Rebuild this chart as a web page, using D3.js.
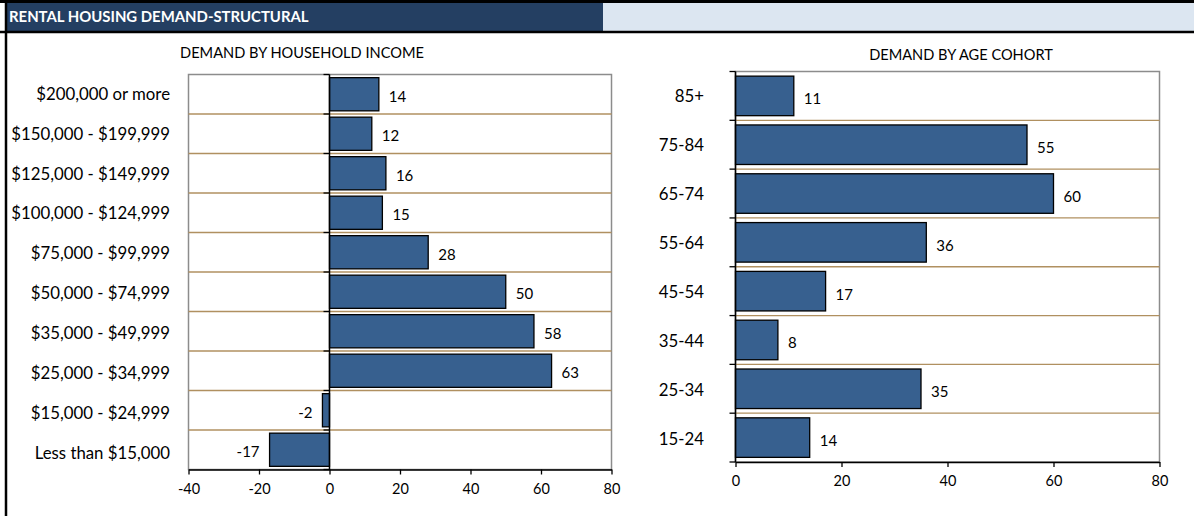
<!DOCTYPE html>
<html>
<head>
<meta charset="utf-8">
<script src="https://cdn.jsdelivr.net/npm/d3@7"></script>
<style>
  html, body { margin: 0; padding: 0; background: #fff; }
  svg { display: block; }
  text { font-family: Lato, "Open Sans", sans-serif; fill: #000; }
</style>
</head>
<body>
<svg id="chart" width="1194" height="516"></svg>
<script>
const headerTitle = "RENTAL HOUSING DEMAND-STRUCTURAL";
const incomeTitle = "DEMAND BY HOUSEHOLD INCOME";
const ageTitle = "DEMAND BY AGE COHORT";

const incomeCategories = ["$200,000 or more", "$150,000 - $199,999", "$125,000 - $149,999",
  "$100,000 - $124,999", "$75,000 - $99,999", "$50,000 - $74,999", "$35,000 - $49,999",
  "$25,000 - $34,999", "$15,000 - $24,999", "Less than $15,000"];
const incomeValues = [14, 12, 16, 15, 28, 50, 58, 63, -2, -17];
const incomeTicks = [-40, -20, 0, 20, 40, 60, 80];

const ageCategories = ["85+", "75-84", "65-74", "55-64", "45-54", "35-44", "25-34", "15-24"];
const ageValues = [11, 55, 60, 36, 17, 8, 35, 14];
const ageTicks = [0, 20, 40, 60, 80];

const svg = d3.select("#chart");
const BAR = "#37608F", GRID = "#B09060", FRAME = "#8C8C8C";

// header band
svg.append("rect").attr("x", 5).attr("y", 2).attr("width", 598).attr("height", 29).attr("fill", "#243F62");
svg.append("rect").attr("x", 603).attr("y", 2).attr("width", 591).attr("height", 29).attr("fill", "#DCE6F1");
svg.append("line").attr("x1", 0).attr("x2", 1194).attr("y1", 1.5).attr("y2", 1.5).attr("stroke", "#000").attr("stroke-width", 3);
svg.append("line").attr("x1", 0).attr("x2", 1194).attr("y1", 32).attr("y2", 32).attr("stroke", "#000").attr("stroke-width", 2.5);
svg.append("line").attr("x1", 6).attr("x2", 6).attr("y1", 0).attr("y2", 516).attr("stroke", "#000").attr("stroke-width", 2.5);
svg.append("text").attr("x", 9).attr("y", 22).text(headerTitle)
  .style("font-weight", "bold").style("font-size", "14.9px").style("fill", "#fff");

function drawChart(cfg) {
  const g = svg.append("g");
  const x = d3.scaleLinear().domain(cfg.domain).range([cfg.x0, cfg.x1]);
  const y = d3.scaleBand().domain(cfg.categories).range([cfg.y0, cfg.y1]).paddingInner(cfg.pad).paddingOuter(cfg.pad / 2);
  const step = y.step();

  // plot frame
  g.append("rect").attr("x", cfg.x0).attr("y", cfg.y0).attr("width", cfg.x1 - cfg.x0).attr("height", cfg.y1 - cfg.y0)
    .attr("fill", "#fff").attr("stroke", FRAME).attr("stroke-width", 1.5);

  // gridlines at category boundaries
  g.selectAll(".grid").data(cfg.categories.slice(1)).join("line")
    .attr("x1", cfg.x0).attr("x2", cfg.x1)
    .attr("y1", (d, i) => cfg.y0 + (i + 1) * step).attr("y2", (d, i) => cfg.y0 + (i + 1) * step)
    .attr("stroke", GRID).attr("stroke-width", 1.3);

  // bars
  g.selectAll(".bar").data(cfg.values).join("rect")
    .attr("x", d => x(Math.min(0, d)))
    .attr("y", (d, i) => y(cfg.categories[i]))
    .attr("width", d => Math.abs(x(d) - x(0)))
    .attr("height", y.bandwidth())
    .attr("fill", BAR).attr("stroke", "#000").attr("stroke-width", 1.3);

  // value labels
  g.selectAll(".val").data(cfg.values).join("text")
    .attr("x", d => d >= 0 ? x(d) + 10 : x(d) - 10)
    .attr("y", (d, i) => y(cfg.categories[i]) + y.bandwidth() / 2 + 5.5 + cfg.labelDy)
    .attr("text-anchor", d => d >= 0 ? "start" : "end")
    .style("font-size", "15px")
    .text(d => d);

  // category axis (at zero)
  const zx = x(0);
  g.append("line").attr("x1", zx).attr("x2", zx).attr("y1", cfg.y0).attr("y2", cfg.y1).attr("stroke", "#000").attr("stroke-width", 1.5);
  g.selectAll(".ytick").data(d3.range(cfg.categories.length + 1)).join("line")
    .attr("x1", zx - 6).attr("x2", zx).attr("y1", i => cfg.y0 + i * step).attr("y2", i => cfg.y0 + i * step)
    .attr("stroke", "#000").attr("stroke-width", 1.3);
  g.selectAll(".ylab").data(cfg.categories).join("text")
    .attr("x", cfg.labelX).attr("y", (d, i) => y(d) + y.bandwidth() / 2 + 6 + cfg.catDy + i * cfg.catSpread)
    .attr("text-anchor", "end").style("font-size", "16.8px").text(d => d);

  // value axis
  const ax = g.append("g").attr("transform", `translate(0,${cfg.y1})`)
    .call(d3.axisBottom(x).tickValues(cfg.ticks).tickFormat(d => String(d)).tickSize(5).tickSizeOuter(0).tickPadding(9));
  ax.select(".domain").attr("stroke", "#000").attr("stroke-width", 1.5);
  ax.selectAll(".tick line").attr("stroke", "#000").attr("stroke-width", 1.3);
  ax.selectAll(".tick text").style("font-size", "14.5px").style("font-family", "Lato, sans-serif").attr("fill", "#000");

  g.append("text").attr("x", cfg.titleX).attr("y", cfg.titleY).attr("text-anchor", "middle")
    .style("font-size", "14.6px").text(cfg.title);
}

drawChart({
  categories: incomeCategories, values: incomeValues, ticks: incomeTicks,
  domain: [-40, 80], x0: 188.5, x1: 611.5, y0: 74.5, y1: 469.5, pad: 0.16,
  labelX: 170, labelDy: 2, catDy: -0.5, catSpread: 0.4, title: incomeTitle, titleX: 302, titleY: 58
});
drawChart({
  categories: ageCategories, values: ageValues, ticks: ageTicks,
  domain: [0, 80], x0: 735.5, x1: 1159.5, y0: 71.5, y1: 462, pad: 0.19,
  labelX: 704, labelDy: 3, catDy: 0.5, catSpread: 0.2, title: ageTitle, titleX: 961, titleY: 60
});
</script>
</body>
</html>
